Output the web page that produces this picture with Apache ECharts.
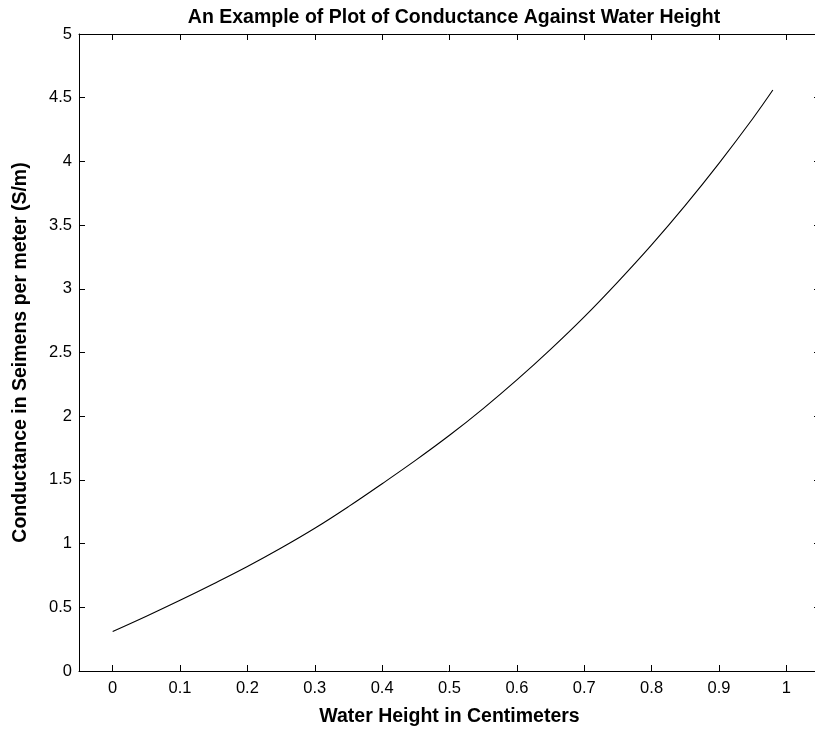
<!DOCTYPE html>
<html>
<head>
<meta charset="utf-8">
<script src="https://cdn.jsdelivr.net/npm/echarts@6/dist/echarts.min.js"></script>
<style>
html,body{margin:0;padding:0;background:#fff;}
#chart{width:815px;height:729px;}
</style>
</head>
<body>
<div id="chart"></div>
<script>
// Data
var waterHeight = [0, 0.05, 0.1, 0.15, 0.2, 0.25, 0.3, 0.35, 0.4, 0.45, 0.5, 0.55, 0.6, 0.65, 0.7, 0.75, 0.8, 0.85, 0.9, 0.95, 0.98];
var conductance = [0.31, 0.43, 0.555, 0.685, 0.82, 0.965, 1.12, 1.29, 1.47, 1.655, 1.85, 2.06, 2.285, 2.525, 2.78, 3.055, 3.345, 3.655, 3.985, 4.335, 4.56];
var xTicks = [0, 0.1, 0.2, 0.3, 0.4, 0.5, 0.6, 0.7, 0.8, 0.9, 1];
var yTicks = [0, 0.5, 1, 1.5, 2, 2.5, 3, 3.5, 4, 4.5, 5];

var titleText = 'An Example of Plot of Conductance Against Water Height';
var xName = 'Water Height in Centimeters';
var yName = 'Conductance in Seimens per meter (S/m)';

var points = waterHeight.map(function (x, i) { return [x, conductance[i]]; });

var font = 'Liberation Sans, Arial, Helvetica, sans-serif';
var lineStyle = { color: '#000', width: 1 };
var labelSize = 16.5;
var nameSize = 19.5;

function xAxisDef(pos, withLabels) {
  return {
    type: 'value', position: pos, min: -0.05, max: 1.05,
    name: withLabels ? xName : '', nameLocation: 'middle', nameGap: 36,
    nameTextStyle: { fontFamily: font, fontWeight: 'bold', fontSize: nameSize, color: '#000' },
    axisLine: { show: true, onZero: false, lineStyle: lineStyle },
    axisTick: { show: true, inside: true, length: 6, lineStyle: lineStyle, customValues: xTicks },
    splitLine: { show: false },
    axisLabel: {
      show: withLabels, margin: 9, fontFamily: font, fontSize: labelSize, color: '#000',
      customValues: xTicks,
      formatter: function (v) { return String(+(+v).toFixed(2)); }
    }
  };
}
function yAxisDef(pos, withLabels) {
  return {
    type: 'value', position: pos, min: 0, max: 5,
    name: withLabels ? yName : '', nameLocation: 'middle', nameGap: 48, nameRotate: 90,
    nameTextStyle: { fontFamily: font, fontWeight: 'bold', fontSize: nameSize, color: '#000' },
    axisLine: { show: true, onZero: false, lineStyle: lineStyle },
    axisTick: { show: true, inside: true, length: 6, lineStyle: lineStyle, customValues: yTicks },
    splitLine: { show: false },
    axisLabel: {
      show: withLabels, margin: 7, fontFamily: font, fontSize: labelSize, color: '#000',
      customValues: yTicks,
      formatter: function (v) { return String(+(+v).toFixed(2)); }
    }
  };
}

var chart = echarts.init(document.getElementById('chart'), null, { renderer: 'canvas' });
chart.setOption({
  backgroundColor: '#fff',
  animation: false,
  title: {
    text: titleText,
    left: 449, top: 3, textAlign: 'center',
    textStyle: { fontFamily: font, fontWeight: 'bold', fontSize: nameSize, color: '#000' }
  },
  grid: { left: 79, top: 34, width: 741, height: 637, containLabel: false, outerBoundsMode: 'none' },
  xAxis: [xAxisDef('bottom', true), xAxisDef('top', false)],
  yAxis: [yAxisDef('left', true), yAxisDef('right', false)],
  series: [{
    type: 'line', xAxisIndex: 0, yAxisIndex: 0,
    data: points, smooth: 0.4, showSymbol: false, symbol: 'none',
    lineStyle: { color: '#000', width: 1.1 }
  }]
});
</script>
</body>
</html>
